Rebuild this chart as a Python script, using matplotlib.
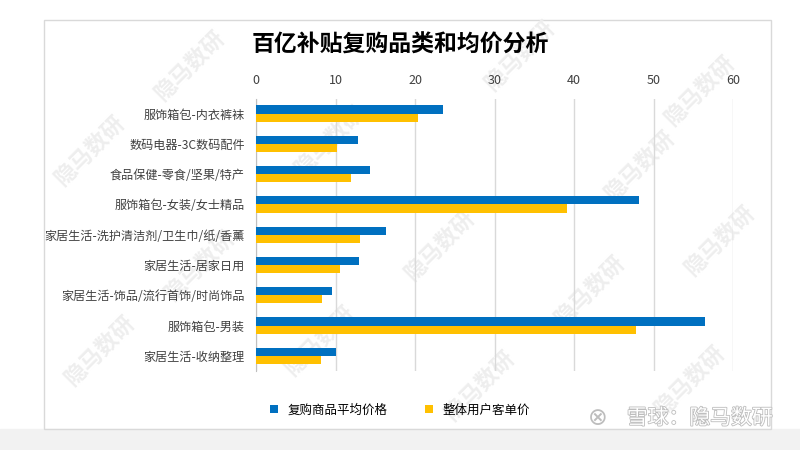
import matplotlib.pyplot as plt
import matplotlib.patches as mpatches
import matplotlib.patheffects as pe
import numpy as np

plt.rcParams['font.family'] = ['Noto Sans CJK SC', 'DejaVu Sans']

categories = ['服饰箱包-内衣裤袜', '数码电器-3C数码配件', '食品保健-零食/坚果/特产',
              '服饰箱包-女装/女士精品', '家居生活-洗护清洁剂/卫生巾/纸/香薰',
              '家居生活-居家日用', '家居生活-饰品/流行首饰/时尚饰品',
              '服饰箱包-男装', '家居生活-收纳整理']
repurchase_price = [23.5, 12.8, 14.3, 48.2, 16.3, 12.9, 9.6, 56.5, 10.1]
customer_price = [20.4, 10.2, 12.0, 39.1, 13.1, 10.6, 8.3, 47.8, 8.2]
series_names = ['复购商品平均价格', '整体用户客单价']
xticks = [0, 10, 20, 30, 40, 50, 60]

fig = plt.figure(figsize=(8, 4.5), dpi=100)

# gray strip at bottom
fig.patches.append(mpatches.Rectangle((0, 0), 1, 21 / 450, transform=fig.transFigure,
                                      color='#F2F2F2', zorder=-3))
# chart border
fig.patches.append(mpatches.Rectangle((44 / 800, 1 - 429 / 450), 727 / 800, 409 / 450,
                                      transform=fig.transFigure, fill=False,
                                      edgecolor='#D9D9D9', lw=1, zorder=-2))

# watermarks (under the chart)
marks = [(190, 65), (520, 55), (700, 90), (90, 150), (330, 140), (640, 165),
         (200, 265), (440, 245), (590, 290), (720, 240), (100, 350), (320, 340),
         (480, 385), (690, 380)]
for mx, my in marks:
    fig.text(mx / 800, 1 - my / 450, '隐马数研', rotation=45, ha='center', va='center',
             fontsize=16, fontweight='bold', color='#EEEEEE', zorder=-1)

ax = fig.add_axes([256 / 800, 1 - 371 / 450, 477 / 800, 272.5 / 450])
y = np.arange(len(categories))
h = 0.27
ax.barh(y - h / 2, repurchase_price, height=h, color='#0070C0', label=series_names[0], zorder=3)
ax.barh(y + h / 2, customer_price, height=h, color='#FFC000', label=series_names[1], zorder=3)

ax.set_ylim(len(categories) - 0.5, -0.5)
ax.set_xlim(0, 60)
ax.set_yticks(y)
ax.set_yticklabels(categories, fontsize=8.7, color='#404040')
ax.set_xticks(xticks)
ax.xaxis.tick_top()
ax.tick_params(axis='x', labelsize=9, colors='#404040', length=0, pad=8)
ax.tick_params(axis='y', length=0, pad=8)
ax.grid(axis='x', color='#D9D9D9', lw=1, zorder=0)
for s in ['top', 'right', 'bottom']:
    ax.spines[s].set_visible(False)
ax.spines['left'].set_color('#BFBFBF')
ax.set_facecolor('none')

fig.text(0.5, 1 - 45 / 450, '百亿补贴复购品类和均价分析', ha='center', va='center',
         fontsize=16.5, fontweight='bold', color='black')

fig.legend(loc='center', bbox_to_anchor=(0.5, 1 - 410 / 450), ncol=2, frameon=False,
           fontsize=9, handlelength=0.6, handleheight=0.6, columnspacing=3, handletextpad=0.8)

fig.text(773 / 800, 1 - 418 / 450, '雪球：隐马数研', ha='right', va='center', fontsize=15,
         color='white', zorder=5,
         path_effects=[pe.withStroke(linewidth=1.2, foreground='#BDBDBD')])
fig.text(598 / 800, 1 - 418 / 450, '⊗', ha='center', va='center', fontsize=17,
         color='#BDBDBD', family=['DejaVu Sans'])

fig.savefig('out.png', dpi=100)
